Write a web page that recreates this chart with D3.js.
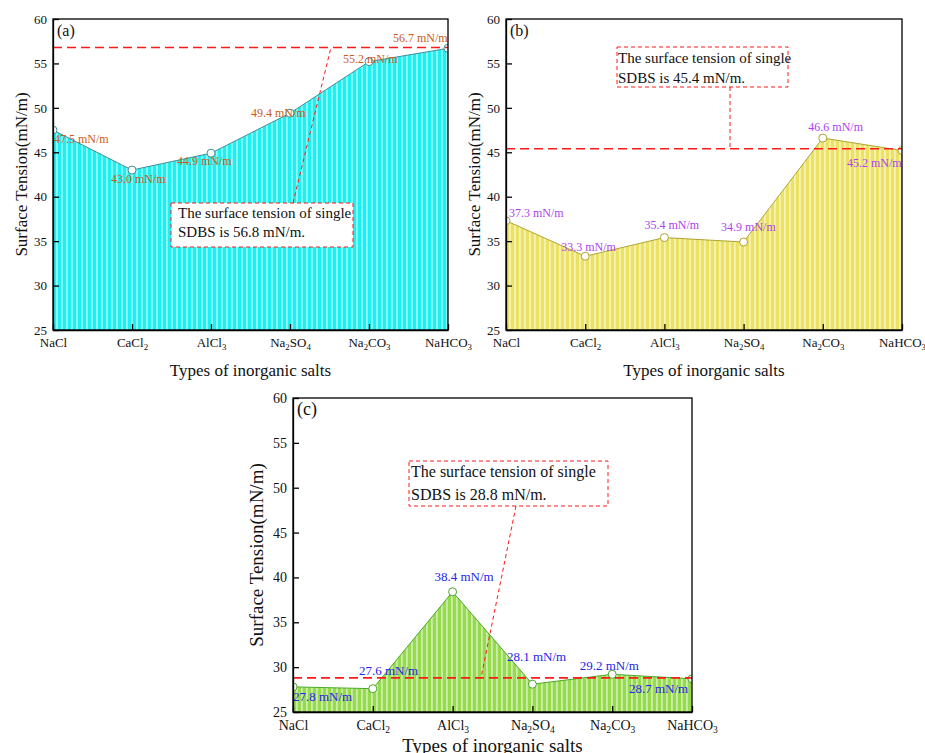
<!DOCTYPE html>
<html>
<head>
<meta charset="utf-8">
<script src="https://cdn.jsdelivr.net/npm/d3@7"></script>
<style>
body { margin: 0; background: #fff; }
svg { display: block; font-family: "Liberation Serif", "Times New Roman", serif; }
</style>
</head>
<body>
<svg id="chart" width="925" height="753"></svg>
<script>
// data
const categories = ['NaCl', 'CaCl2', 'AlCl3', 'Na2SO4', 'Na2CO3', 'NaHCO3'];
const yTicks = [25, 30, 35, 40, 45, 50, 55, 60];
const valuesA = [47.5, 43.0, 44.9, 49.4, 55.2, 56.7];
const valuesB = [37.3, 33.3, 35.4, 34.9, 46.6, 45.2];
const valuesC = [27.8, 27.6, 38.4, 28.1, 29.2, 28.7];
const singleSDBS = [56.8, 45.4, 28.8];
const panelNames = ['(a)', '(b)', '(c)'];
const xTitle = 'Types of inorganic salts';
const yTitle = 'Surface Tension(mN/m)';

// layout of each panel (pixels)
const panels = [
  { values: valuesA, single: singleSDBS[0], name: panelNames[0],
    left: 53, right: 448, top: 19, bottom: 330,
    fill: '#1cf0f0', edge: '#3f8f99', labelColor: '#cc5a1a',
    tickSize: 13, titleSize: 17, labelSize: 12, tickPad: 7.5, titleDx: -26, titleDy: 46,
    labelOffsets: [[1, 13], [-21, 12.6], [-34, 11.5], [-39, 4], [-26, 1.4], [-55, -6]],
    box: { x: 118, y: 184, w: 182, h: 44, tx: 7, ty1: 15, ty2: 34, size: 15 },
    conn: { x1: 240, y1: 184, x2: 278 } },
  { values: valuesB, single: singleSDBS[1], name: panelNames[1],
    left: 506, right: 902, top: 19, bottom: 330,
    fill: '#ebe263', edge: '#b0a430', labelColor: '#b040f0',
    tickSize: 13, titleSize: 17, labelSize: 12, tickPad: 7.5, titleDx: -26, titleDy: 46,
    labelOffsets: [[3, -4], [-24, -5.5], [-20, -9], [-22.5, -11.3], [-14.5, -7.4], [-55, 16.8]],
    box: { x: 111, y: 28, w: 171, h: 40, tx: 1, ty1: 16, ty2: 36, size: 15 },
    conn: { x1: 224, y1: 68, x2: 224 } },
  { values: valuesC, single: singleSDBS[2], name: panelNames[2],
    left: 293, right: 692, top: 398, bottom: 712,
    fill: '#96db4e', edge: '#4aa828', labelColor: '#2424ee',
    tickSize: 14, titleSize: 19, labelSize: 13, tickPad: 8.5, titleDx: -30, titleDy: 40,
    labelOffsets: [[0, 14.5], [-13.8, -14], [-18.2, -11], [-25.4, -22.8], [-32.5, -4.6], [-63, 14.2]],
    box: { x: 116, y: 63, w: 199, h: 45, tx: 2, ty1: 16, ty2: 39, size: 16 },
    conn: { x1: 223, y1: 108, x2: 188 } }
];

const svg = d3.select('#chart');
const defs = svg.append('defs');

// writes chemical formulas with subscript digits
function formula(textSel, label) {
  textSel.text(null);
  const parts = label.split(/(\d+)/).filter(s => s.length);
  let sub = false;
  parts.forEach(p => {
    const isDigit = /^\d+$/.test(p);
    const t = textSel.append('tspan').text(p);
    if (isDigit) {
      t.attr('font-size', '0.68em').attr('dy', sub ? 0 : 3);
      sub = true;
    } else if (sub) {
      t.attr('dy', -3);
      sub = false;
    }
  });
}

panels.forEach((p, i) => {
  const x = d3.scalePoint().domain(categories).range([p.left, p.right]).padding(0);
  const y = d3.scaleLinear().domain([25, 60]).range([p.bottom, p.top]);
  const g = svg.append('g');

  // vertical-stripe fill
  const pat = defs.append('pattern')
    .attr('id', 'hatch' + i)
    .attr('patternUnits', 'userSpaceOnUse')
    .attr('x', p.left).attr('y', 0)
    .attr('width', 5).attr('height', 10);
  pat.append('rect').attr('width', 5).attr('height', 10).attr('fill', p.fill);
  pat.append('rect').attr('x', 3.4).attr('width', 1.1).attr('height', 10).attr('fill', '#fff').attr('opacity', 0.85);

  defs.append('clipPath').attr('id', 'clip' + i)
    .append('rect')
    .attr('x', p.left).attr('y', p.top)
    .attr('width', p.right - p.left).attr('height', p.bottom - p.top);

  const plot = g.append('g').attr('clip-path', 'url(#clip' + i + ')');

  const area = d3.area()
    .x((d, j) => x(categories[j]))
    .y0(y(25))
    .y1(d => y(d));
  const line = d3.line()
    .x((d, j) => x(categories[j]))
    .y(d => y(d));

  plot.append('path').datum(p.values)
    .attr('d', area)
    .attr('fill', 'url(#hatch' + i + ')');
  plot.append('path').datum(p.values)
    .attr('d', line)
    .attr('fill', 'none')
    .attr('stroke', p.edge)
    .attr('stroke-width', 1);

  // single SDBS reference line
  g.append('line')
    .attr('x1', p.left).attr('x2', p.right)
    .attr('y1', y(p.single)).attr('y2', y(p.single))
    .attr('stroke', '#ff1a1a')
    .attr('stroke-width', 1.6)
    .attr('stroke-dasharray', '9,5');

  // annotation box and connector
  g.append('line')
    .attr('x1', p.left + p.conn.x1).attr('y1', p.top + p.conn.y1)
    .attr('x2', p.left + p.conn.x2).attr('y2', y(p.single))
    .attr('stroke', '#ff1a1a')
    .attr('stroke-width', 1)
    .attr('stroke-dasharray', '4,3');
  g.append('rect')
    .attr('x', p.left + p.box.x).attr('y', p.top + p.box.y)
    .attr('width', p.box.w).attr('height', p.box.h)
    .attr('fill', '#fff')
    .attr('stroke', '#ff1a1a')
    .attr('stroke-width', 1)
    .attr('stroke-dasharray', '4,3');
  const bt = g.append('text')
    .attr('font-size', p.box.size)
    .attr('fill', '#111');
  bt.append('tspan')
    .attr('x', p.left + p.box.x + p.box.tx)
    .attr('y', p.top + p.box.y + p.box.ty1)
    .text('The surface tension of single');
  bt.append('tspan')
    .attr('x', p.left + p.box.x + p.box.tx)
    .attr('y', p.top + p.box.y + p.box.ty2)
    .text('SDBS is ' + p.single.toFixed(1) + ' mN/m.');

  // markers
  plot.selectAll('circle')
    .data(p.values)
    .enter()
    .append('circle')
    .attr('cx', (d, j) => x(categories[j]))
    .attr('cy', d => y(d))
    .attr('r', 4)
    .attr('fill', '#fff')
    .attr('stroke', p.edge)
    .attr('stroke-width', 1);

  // value labels
  g.selectAll('.val')
    .data(p.values)
    .enter()
    .append('text')
    .attr('class', 'val')
    .attr('x', (d, j) => x(categories[j]) + p.labelOffsets[j][0])
    .attr('y', (d, j) => y(d) + p.labelOffsets[j][1])
    .attr('font-size', p.labelSize)
    .attr('fill', p.labelColor)
    .text(d => d.toFixed(1) + ' mN/m');

  // frame
  g.append('rect')
    .attr('x', p.left).attr('y', p.top)
    .attr('width', p.right - p.left).attr('height', p.bottom - p.top)
    .attr('fill', 'none')
    .attr('stroke', '#000')
    .attr('stroke-width', 1.3);

  // axes
  const yAxis = d3.axisLeft(y).tickValues(yTicks).tickSize(-6).tickSizeOuter(0).tickPadding(6);
  const xAxis = d3.axisBottom(x).tickSize(-6).tickSizeOuter(0).tickPadding(p.tickPad);

  const ya = g.append('g')
    .attr('transform', 'translate(' + p.left + ',0)')
    .call(yAxis);
  const xa = g.append('g')
    .attr('transform', 'translate(0,' + p.bottom + ')')
    .call(xAxis);
  [ya, xa].forEach(a => {
    a.selectAll('.domain').attr('stroke-width', 1.3);
    a.selectAll('.tick line').attr('stroke-width', 1.3);
    a.selectAll('text')
      .attr('font-family', '"Liberation Serif", "Times New Roman", serif')
      .attr('font-size', p.tickSize)
      .attr('fill', '#111');
  });
  xa.selectAll('.tick text').each(function(d) { formula(d3.select(this), d); });

  // titles
  g.append('text')
    .attr('transform', 'translate(' + (p.left + p.titleDx) + ',' + ((p.top + p.bottom) / 2) + ') rotate(-90)')
    .attr('text-anchor', 'middle')
    .attr('font-size', p.titleSize)
    .attr('fill', '#111')
    .text(yTitle);
  g.append('text')
    .attr('x', (p.left + p.right) / 2)
    .attr('y', p.bottom + p.titleDy)
    .attr('text-anchor', 'middle')
    .attr('font-size', p.titleSize)
    .attr('fill', '#111')
    .text(xTitle);
  g.append('text')
    .attr('x', p.left + 4)
    .attr('y', p.top + 17)
    .attr('font-size', p.titleSize - 1)
    .attr('fill', '#111')
    .text(p.name);
});
</script>
</body>
</html>
